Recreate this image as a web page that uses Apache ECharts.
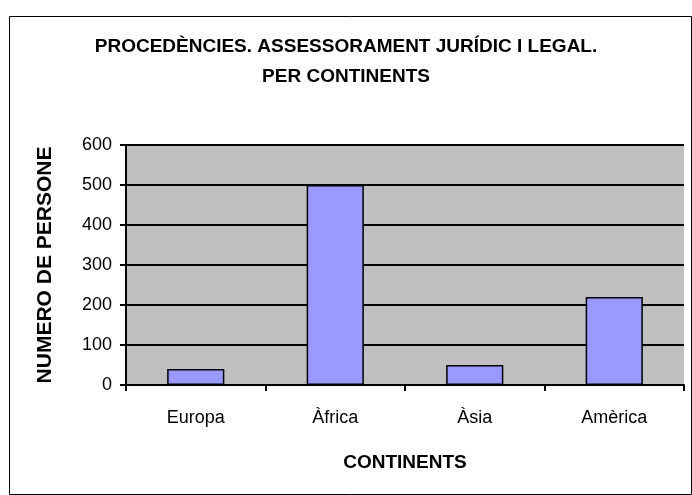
<!DOCTYPE html>
<html lang="ca">
<head>
    <meta charset="UTF-8">
    <title>Procedències per continents</title>
    <script src="https://cdn.jsdelivr.net/npm/echarts@6/dist/echarts.min.js"></script>
    <style>
        html, body { margin: 0; padding: 0; background: #fff; }
        #chart { width: 692px; height: 495px; }
    </style>
</head>
<body>
    <div id="chart"></div>
    <script>
        // dades llegides del gràfic
        var continents = ['Europa', 'Àfrica', 'Àsia', 'Amèrica'];
        var persones = [40, 500, 50, 220];

        var chart = echarts.init(document.getElementById('chart'));
        var font = 'Arial, "Liberation Sans", sans-serif';

        var option = {
            backgroundColor: '#ffffff',
            animation: false,
            title: {
                text: 'PROCEDÈNCIES. ASSESSORAMENT JURÍDIC I LEGAL.\nPER CONTINENTS',
                left: 'center',
                top: 27,
                textStyle: {
                    fontFamily: font,
                    fontWeight: 'bold',
                    fontSize: 19,
                    color: '#000',
                    lineHeight: 30
                }
            },
            graphic: [{
                type: 'rect',
                shape: { x: 9.5, y: 16.5, width: 682, height: 478 },
                style: { fill: 'none', stroke: '#000', lineWidth: 1 },
                silent: true
            }],
            grid: {
                left: 126,
                right: 8,
                top: 145,
                bottom: 110,
                show: true,
                backgroundColor: '#c0c0c0',
                borderWidth: 0
            },
            xAxis: {
                type: 'category',
                data: continents,
                name: 'CONTINENTS',
                nameLocation: 'middle',
                nameGap: 68,
                nameTextStyle: { fontFamily: font, fontWeight: 'bold', fontSize: 19, color: '#000' },
                axisLine: { lineStyle: { color: '#000', width: 2 } },
                axisTick: { show: true, length: 6, lineStyle: { color: '#000', width: 2 } },
                axisLabel: { fontFamily: font, fontSize: 18, color: '#000', margin: 24 }
            },
            yAxis: {
                type: 'value',
                min: 0,
                max: 600,
                interval: 100,
                name: 'NUMERO DE PERSONE',
                nameLocation: 'middle',
                nameGap: 70,
                nameTextStyle: { fontFamily: font, fontWeight: 'bold', fontSize: 21, color: '#000' },
                axisLine: { show: true, lineStyle: { color: '#000', width: 2 } },
                axisTick: { show: true, length: 6, lineStyle: { color: '#000', width: 2 } },
                axisLabel: { fontFamily: font, fontSize: 18, color: '#000', margin: 14 },
                splitLine: { show: true, lineStyle: { color: '#000', width: 2 } }
            },
            series: [{
                name: 'Persones',
                type: 'bar',
                data: persones,
                barWidth: '41%',
                itemStyle: {
                    color: '#9999ff',
                    borderColor: '#000',
                    borderWidth: 1.5
                }
            }]
        };
        chart.setOption(option);
    </script>
</body>
</html>
